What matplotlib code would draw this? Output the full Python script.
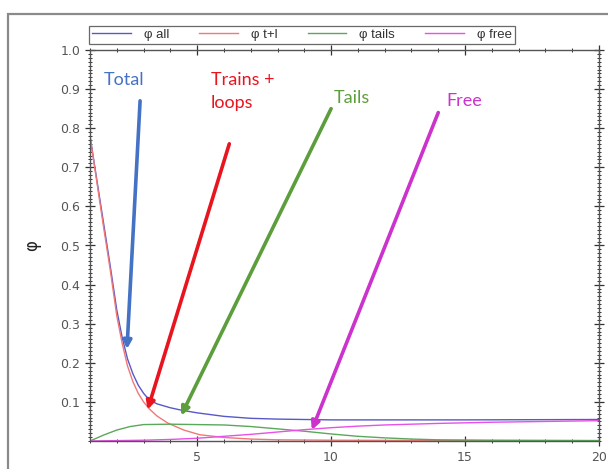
import matplotlib
matplotlib.use("Agg")
import matplotlib.pyplot as plt
from matplotlib.patches import Rectangle
from matplotlib.ticker import MultipleLocator, FixedLocator

# ---- data ----
x_all = [1, 1.25, 1.5, 1.75, 2.0, 2.2, 2.4, 2.6, 2.8, 3.0, 3.2, 3.5, 4, 4.4, 5, 6, 7, 8, 9, 10, 15, 20]
phi_all = [0.78, 0.67, 0.56, 0.45, 0.335, 0.265, 0.21, 0.172, 0.143, 0.122, 0.106, 0.095, 0.085,
           0.079, 0.072, 0.063, 0.058, 0.056, 0.055, 0.054, 0.054, 0.055]

x_tl = [1, 1.25, 1.5, 1.75, 2.0, 2.2, 2.4, 2.6, 2.8, 3.0, 3.2, 3.5, 3.9, 4.5, 5.1, 6, 7, 8, 10, 15, 20]
phi_tl = [0.78, 0.665, 0.55, 0.44, 0.32, 0.25, 0.192, 0.152, 0.122, 0.1, 0.083, 0.064, 0.046, 0.028,
          0.016, 0.009, 0.005, 0.003, 0.002, 0.001, 0.001]

x_tails = [1, 1.5, 2, 2.5, 3, 4, 5, 6, 7, 8, 9, 10, 11, 12, 13, 14, 16, 20]
phi_tails = [0.0, 0.015, 0.028, 0.037, 0.042, 0.043, 0.042, 0.041, 0.037, 0.031, 0.025, 0.018,
             0.012, 0.008, 0.005, 0.003, 0.002, 0.001]

x_free = [1, 2, 3, 4, 5, 6, 7, 8, 9, 10, 11, 12, 14, 16, 18, 20]
phi_free = [0.0, 0.001, 0.002, 0.004, 0.007, 0.012, 0.017, 0.023, 0.029, 0.034, 0.038, 0.041,
            0.045, 0.048, 0.050, 0.052]

legend_labels = ["φ all", "φ t+l", "φ tails", "φ free"]
line_colors = ["#5858c8", "#f07878", "#5aa85a", "#e850e8"]

# annotations: label, text pos, arrow start, arrow end, colour
ann_labels = ["Total", "Trains +\nloops", "Tails", "Free"]
ann_text_xy = [(1.5, 0.945), (5.5, 0.945), (10.1, 0.897), (14.3, 0.89)]
ann_from = [(2.87, 0.87), (6.2, 0.76), (10.0, 0.85), (14.0, 0.84)]
ann_to = [(2.38, 0.235), (3.15, 0.08), (4.4, 0.065), (9.28, 0.028)]
ann_colors = ["#4472c4", "#e8141e", "#5c9e3c", "#cc33cc"]

x_major = [5, 10, 15, 20]
y_major = [0.1, 0.2, 0.3, 0.4, 0.5, 0.6, 0.7, 0.8, 0.9, 1.0]

fig = plt.figure(figsize=(6.08, 4.69), dpi=100)
ax = fig.add_axes([90 / 608, 28 / 469, 509 / 608, 391 / 469])

series = [(x_all, phi_all), (x_tl, phi_tl), (x_tails, phi_tails), (x_free, phi_free)]
handles = []
for (xs, ys), lab, col in zip(series, legend_labels, line_colors):
    h, = ax.plot(xs, ys, color=col, lw=1.0, label=lab)
    handles.append(h)

ax.set_xlim(1, 20)
ax.set_ylim(0, 1.0)
ax.xaxis.set_major_locator(FixedLocator(x_major))
ax.xaxis.set_minor_locator(MultipleLocator(1))
ax.yaxis.set_major_locator(FixedLocator(y_major))
ax.yaxis.set_minor_locator(MultipleLocator(0.01))
ax.set_yticklabels([f"{v:.1f}" for v in y_major])
ax.tick_params(which="both", direction="inout", top=True, right=True, colors="#333333",
               labelcolor="#555555", labelsize=9)
ax.tick_params(which="major", length=7, width=0.9)
ax.tick_params(which="minor", length=3.5, width=0.7)
for s in ax.spines.values():
    s.set_color("#555555")
    s.set_linewidth(1.0)
ax.set_ylabel("φ", fontsize=12, color="#222222", labelpad=14)

for lab, txy, f, t, c in zip(ann_labels, ann_text_xy, ann_from, ann_to, ann_colors):
    ax.text(txy[0], txy[1], lab, color=c, fontsize=13, family="Lato", va="top", ha="left",
            linespacing=1.55)
    ax.annotate("", xy=t, xytext=f,
                arrowprops=dict(arrowstyle="-|>", color=c, lw=2.6, mutation_scale=12,
                                shrinkA=0, shrinkB=0))

leg = fig.legend(handles=handles, labels=legend_labels, ncol=4, loc="center left",
                 bbox_to_anchor=(89 / 608, 1 - 35 / 469), frameon=True,
                 prop={"family": "Liberation Sans", "size": 9.5},
                 fancybox=False, edgecolor="#444444", handlelength=2.9, columnspacing=2.3,
                 borderpad=0.25, handletextpad=1.0, borderaxespad=0)
leg.get_frame().set_linewidth(0.9)
for t in leg.get_texts():
    t.set_color("#333333")

fig.patches.append(Rectangle((8 / 608, -0.02), 0.995, 1 - 14 / 469 + 0.02,
                             transform=fig.transFigure, fill=False, edgecolor="#8a8a8a",
                             lw=1.6))

fig.savefig("out.png", dpi=100)
